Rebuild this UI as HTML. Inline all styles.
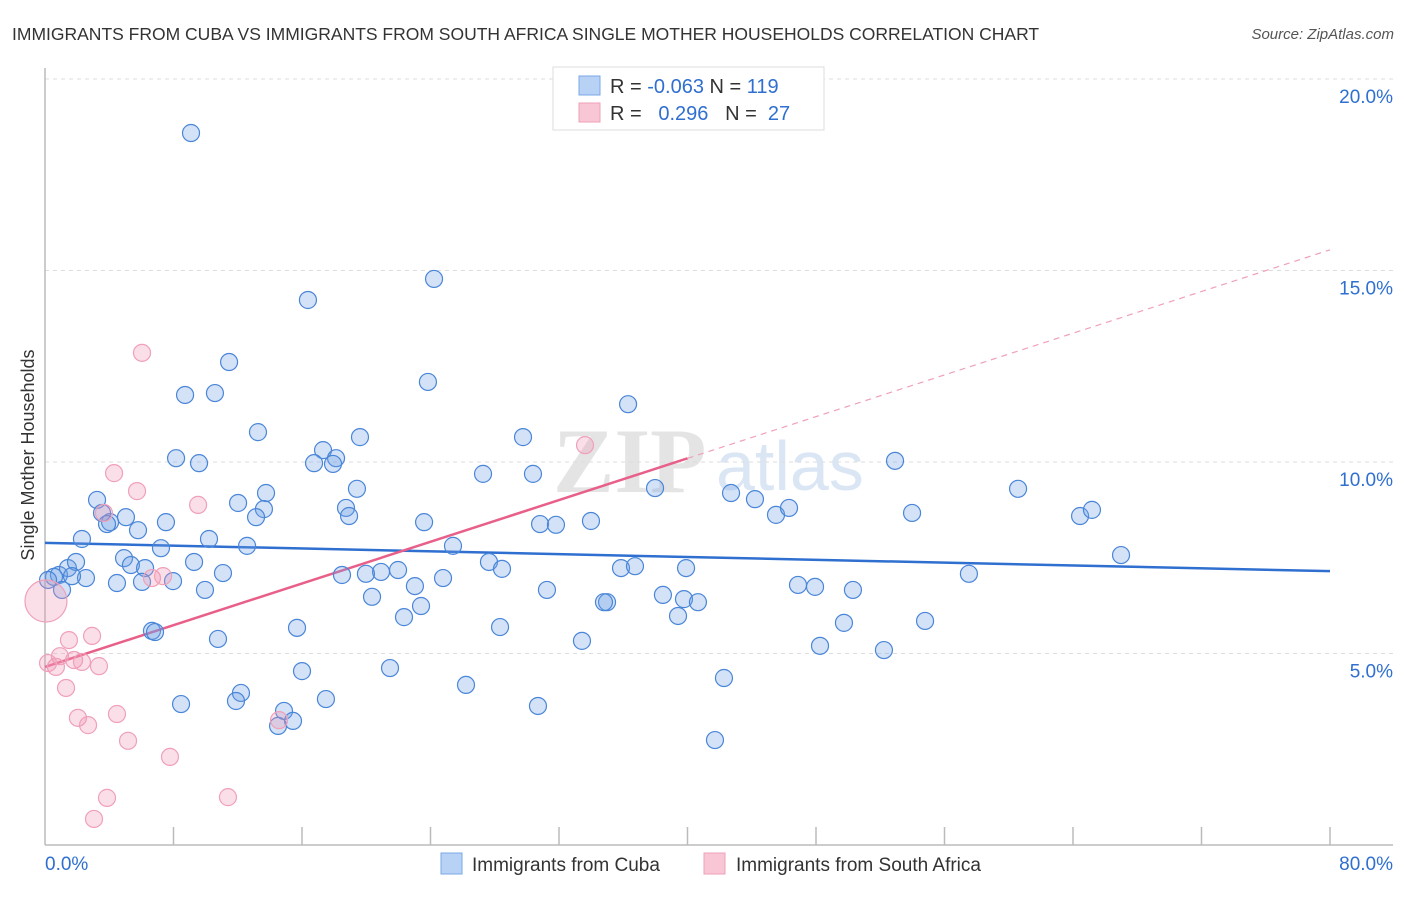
<!DOCTYPE html>
<html><head><meta charset="utf-8"><style>
body{margin:0;background:#fff;font-family:"Liberation Sans",sans-serif;}
</style></head><body>
<svg id="chart" width="1406" height="892" xmlns="http://www.w3.org/2000/svg" style="font-family:'Liberation Sans',sans-serif">
<text x="12" y="40" font-size="17.5" fill="#333">IMMIGRANTS FROM CUBA VS IMMIGRANTS FROM SOUTH AFRICA SINGLE MOTHER HOUSEHOLDS CORRELATION CHART</text>
<text x="1394" y="39" font-size="15" fill="#555" font-style="italic" text-anchor="end">Source: ZipAtlas.com</text>
<text transform="translate(34,455) rotate(-90)" font-size="18" fill="#333" text-anchor="middle">Single Mother Households</text>
<g><text x="553" y="492" font-size="92" fill="#e4e4e4" font-family="Liberation Serif,serif" font-weight="bold">ZIP</text><text x="716" y="490" font-size="70" fill="#dbe6f5">atlas</text></g>
<g id="grid"></g><g id="axes"></g><g id="lines"></g><g id="pts"></g>
<g>
<rect x="553" y="67" width="271" height="63" fill="#fff" stroke="#ddd"/>
<rect x="579" y="76" width="21" height="19" fill="#b8d2f5" stroke="#7aa8e6"/>
<rect x="579" y="103" width="21" height="19" fill="#f9c6d5" stroke="#f0a0b8"/>
<text x="610" y="93" font-size="20" fill="#333">R = <tspan fill="#2f6fd0">-0.063</tspan>   N = <tspan fill="#2f6fd0">119</tspan></text>
<text x="610" y="120" font-size="20" fill="#333" xml:space="preserve">R =   <tspan fill="#2f6fd0">0.296</tspan>   N =  <tspan fill="#2f6fd0">27</tspan></text>
</g>
<g>
<rect x="441" y="853" width="21" height="21" fill="#b8d2f5" stroke="#7aa8e6"/>
<text x="472" y="871" font-size="19" fill="#333">Immigrants from Cuba</text>
<rect x="704" y="853" width="21" height="21" fill="#f9c6d5" stroke="#f0a0b8"/>
<text x="736" y="871" font-size="19" fill="#333">Immigrants from South Africa</text>
</g>
</svg>
<script>
const cubaX=[9.09,24.22,16.37,11.46,23.84,8.72,10.58,36.30,13.26,29.76,19.61,17.31,8.16,9.59,16.75,18.12,17.93,52.92,27.27,30.38,19.42,37.98,60.58,3.24,13.76,12.02,42.71,44.20,18.74,18.93,13.63,13.14,3.55,5.04,4.05,3.86,7.53,23.60,30.82,31.81,33.99,45.51,46.32,53.98,64.44,65.18,5.79,2.30,10.21,12.58,7.22,25.40,66.99,4.92,5.35,9.28,6.23,27.64,28.45,39.91,35.86,36.73,21.98,20.92,19.98,18.49,11.08,0.87,1.43,1.93,2.55,1.68,0.56,0.19,4.48,6.04,7.97,9.96,23.03,24.78,57.52,1.06,31.25,46.88,47.94,50.30,20.36,38.47,39.78,40.65,34.99,34.80,23.41,22.35,39.41,49.74,54.79,15.69,28.33,6.66,6.85,10.77,33.43,48.25,52.23,16.00,21.48,26.21,42.27,12.20,11.89,17.49,8.47,30.69,14.88,15.44,14.51,41.71];
const cubaY=[18.59,14.78,14.23,12.61,12.09,11.75,11.80,11.51,10.78,10.65,10.65,10.31,10.10,9.97,9.97,10.10,9.95,10.03,9.69,9.69,9.30,9.32,9.30,9.01,9.19,8.93,9.19,9.03,8.80,8.59,8.77,8.56,8.67,8.56,8.43,8.38,8.43,8.43,8.38,8.36,8.46,8.62,8.80,8.67,8.59,8.75,8.22,7.99,7.99,7.81,7.75,7.81,7.57,7.49,7.31,7.39,7.23,7.39,7.21,7.23,7.23,7.28,7.18,7.13,7.08,7.05,7.10,7.05,7.23,7.39,6.97,7.02,7.00,6.92,6.84,6.87,6.89,6.66,6.76,6.97,7.08,6.66,6.66,6.79,6.74,6.66,6.48,6.53,6.42,6.34,6.34,6.34,6.24,5.95,5.98,5.80,5.85,5.67,5.69,5.59,5.56,5.38,5.33,5.20,5.09,4.54,4.62,4.18,4.36,3.97,3.76,3.81,3.68,3.63,3.50,3.24,3.11,2.74];
const saX=[6.04,33.62,4.30,5.73,9.53,3.67,6.66,7.35,2.93,1.49,0.93,1.81,0.68,2.30,3.36,1.31,2.05,2.68,4.48,5.17,7.78,3.86,11.39,3.05,14.57,0.19];
const saY=[12.85,10.44,9.71,9.24,8.88,8.67,6.97,7.02,5.46,5.35,4.93,4.83,4.65,4.78,4.67,4.10,3.32,3.13,3.42,2.72,2.30,1.23,1.25,0.68,3.26,4.75];
const bigSA=[0.06,6.37];
const cubaTrend=[7.89,7.15];
const saTrend=[4.65,15.54];
const yTicks=[5,10,15,20];
const yTickLabels=["5.0%","10.0%","15.0%","20.0%"];
const xTickCount=10;
const X0=45,X1=1330,Y0=845,PXY=38.3;
const sx=v=>X0+(X1-X0)*v/80, sy=v=>Y0-v*PXY;
const NS="http://www.w3.org/2000/svg";
function mk(p,t,a){const e=document.createElementNS(NS,t);for(const k in a)e.setAttribute(k,a[k]);document.getElementById(p).appendChild(e);return e;}
yTicks.forEach((t,i)=>{
 const l=mk('grid','line',{x1:X0,x2:1393,y1:sy(t),y2:sy(t),stroke:'#ddd','stroke-dasharray':'4,4'});
 
 
 const tx=mk('axes','text',{x:1393,y:sy(t)+24,'font-size':19,fill:'#2f6fd0','text-anchor':'end'});
 tx.textContent=yTickLabels[i];
 
 
});
const ax=mk('axes','line',{x1:X0,x2:X0,y1:68,y2:Y0,stroke:'#bbb','stroke-width':1.5});


const bx=mk('axes','line',{x1:X0,x2:1393,y1:Y0,y2:Y0,stroke:'#bbb','stroke-width':1.5});


for(let i=1;i<=xTickCount;i++){const v=80*i/xTickCount;const t=mk('axes','line',{x1:sx(v),x2:sx(v),y1:Y0-18,y2:Y0,stroke:'#bbb','stroke-width':1.5});
 
 }
const l0=mk('axes','text',{x:45,y:870,'font-size':19,fill:'#2f6fd0'});l0.textContent='0.0%';


const l1=mk('axes','text',{x:1393,y:870,'font-size':19,fill:'#2f6fd0','text-anchor':'end'});l1.textContent='80.0%';


cubaX.forEach((x,i)=>{const c=mk('pts','circle',{cx:sx(x),cy:sy(cubaY[i]),r:8.5,fill:'rgba(110,160,230,0.3)',stroke:'#4a86d8','stroke-width':1.2});
 
 });
const bg=mk('pts','circle',{cx:sx(bigSA[0]),cy:sy(bigSA[1]),r:21,fill:'rgba(240,150,180,0.3)',stroke:'#f0a0b8','stroke-width':1.2});


saX.forEach((x,i)=>{const c=mk('pts','circle',{cx:sx(x),cy:sy(saY[i]),r:8.5,fill:'rgba(240,150,180,0.3)',stroke:'#f0a0b8','stroke-width':1.2});
 
 });
const bl=mk('lines','line',{x1:sx(0),y1:sy(cubaTrend[0]),x2:sx(80),y2:sy(cubaTrend[1]),stroke:'#2f6fd0','stroke-width':2.5});


const mid=saTrend[0]+(saTrend[1]-saTrend[0])*0.5;
const pl=mk('lines','line',{x1:sx(0),y1:sy(saTrend[0]),x2:sx(40),y2:sy(mid),stroke:'#e8608a','stroke-width':2.5});


const pd=mk('lines','line',{x1:sx(40),y1:sy(mid),x2:sx(80),y2:sy(saTrend[1]),stroke:'#f0a0b8','stroke-width':1.2,'stroke-dasharray':'6,5'});


</script>
</body></html>
